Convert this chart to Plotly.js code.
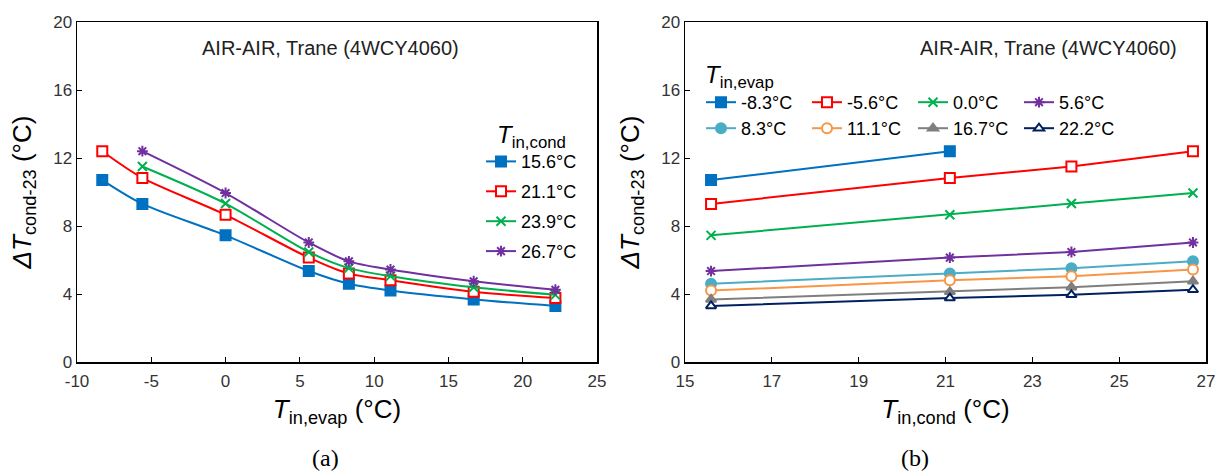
<!DOCTYPE html>
<html>
<head>
<meta charset="utf-8">
<script src="https://cdn.plot.ly/plotly-3.0.1.min.js"></script>
<style>html,body{margin:0;padding:0;background:#fff;}#chart{width:1217px;height:473px;}</style>
</head>
<body>
<div id="chart"></div>
<script>
// ---- data ----
const evapTemps = [-8.3, -5.6, 0.0, 5.6, 8.3, 11.1, 16.7, 22.2];
const condTemps = [15.6, 21.1, 23.9, 26.7];
const condLabels = ['15.6°C', '21.1°C', '23.9°C', '26.7°C'];
const evapLabels = ['-8.3°C', '-5.6°C', '0.0°C', '5.6°C', '8.3°C', '11.1°C', '16.7°C', '22.2°C'];
// ΔT_cond-23 vs T_in,evap for each T_in,cond
const dT_cond156 = [10.7, 9.3, 7.45, 5.35, 4.6, 4.2, 3.68, 3.3];
const dT_cond211 = [12.4, 10.83, 8.66, 6.14, 5.2, 4.81, 4.13, 3.76];
const dT_cond239 = [null, 11.5, 9.32, 6.47, 5.52, 5.05, 4.4, 3.95];
const dT_cond267 = [null, 12.4, 9.94, 7.03, 5.92, 5.44, 4.75, 4.25];
const xTicksA = [-10, -5, 0, 5, 10, 15, 20, 25];
const xTickTextA = ['-10', '-5', '0', '5', '10', '15', '20', '25'];
const plotNote = 'AIR-AIR, Trane (4WCY4060)';

// ---- styles ----
const FONT = 'Arial, "Liberation Sans", sans-serif';
const condStyles = [
  {color: '#0070C0', symbol: 'square', fill: '#0070C0', size: 10},
  {color: '#FF0000', symbol: 'square', fill: '#FFFFFF', size: 10},
  {color: '#00B050', symbol: 'x-thin-open', fill: '#00B050', size: 9},
  {color: '#7030A0', symbol: 'asterisk-open', fill: '#7030A0', size: 9}
];
const evapStyles = [
  {color: '#0070C0', symbol: 'square', fill: '#0070C0', size: 10},
  {color: '#FF0000', symbol: 'square', fill: '#FFFFFF', size: 10},
  {color: '#00B050', symbol: 'x-thin-open', fill: '#00B050', size: 9},
  {color: '#7030A0', symbol: 'asterisk-open', fill: '#7030A0', size: 9},
  {color: '#4BACC6', symbol: 'circle', fill: '#4BACC6', size: 10},
  {color: '#F79646', symbol: 'circle', fill: '#FFFFFF', size: 10},
  {color: '#7F7F7F', symbol: 'triangle-up', fill: '#7F7F7F', size: 9},
  {color: '#002060', symbol: 'triangle-up', fill: '#FFFFFF', size: 9}
];

const condSeries = [dT_cond156, dT_cond211, dT_cond239, dT_cond267];
const traces = [];

condSeries.forEach((ys, k) => {
  const s = condStyles[k];
  traces.push({
    type: 'scatter', mode: 'lines+markers',
    x: evapTemps, y: ys, name: condLabels[k],
    xaxis: 'x', yaxis: 'y', legend: 'legend', legendgroup: 'c' + k,
    line: {color: s.color, width: 2, shape: 'spline', smoothing: 0.8},
    marker: {symbol: s.symbol, size: s.size, color: s.fill, line: {color: s.color, width: 2}},
    connectgaps: false
  });
});

evapTemps.forEach((te, i) => {
  const s = evapStyles[i];
  const xs = [], ys = [];
  condTemps.forEach((tc, k) => {
    const v = condSeries[k][i];
    if (v !== null) { xs.push(tc); ys.push(v); }
  });
  traces.push({
    type: 'scatter', mode: 'lines+markers',
    x: xs, y: ys, name: evapLabels[i],
    xaxis: 'x2', yaxis: 'y2', legend: i < 4 ? 'legend2' : 'legend3',
    line: {color: s.color, width: 2},
    marker: {symbol: s.symbol, size: s.size, color: s.fill, line: {color: s.color, width: 2}}
  });
});

const W = 1217, H = 473;
const px = v => v / W, py = v => 1 - v / H;

const axisBase = {
  showgrid: false, zeroline: false, showline: true, linecolor: '#000', linewidth: 1.5,
  mirror: true, ticks: 'inside', ticklen: 5, tickwidth: 1, tickcolor: '#000',
  tickfont: {family: FONT, size: 17, color: '#333'}
};
const yTitle = {text: '<i>ΔT</i><sub>cond-23</sub> (°C)', font: {family: FONT, size: 26, color: '#000'}, standoff: 14};

const layout = {
  width: W, height: H,
  margin: {l: 0, r: 0, t: 0, b: 0},
  paper_bgcolor: '#fff', plot_bgcolor: '#fff',
  showlegend: true,
  xaxis: Object.assign({}, axisBase, {domain: [px(77), px(597)], range: [-10, 25], anchor: 'y',
    tickmode: 'array', tickvals: xTicksA, ticktext: xTickTextA, ticklabelstandoff: 3,
    title: {text: '<i>T</i><sub>in,evap</sub> (°C)', font: {family: FONT, size: 26, color: '#000'}, standoff: 10}}),
  yaxis: Object.assign({}, axisBase, {domain: [py(362), py(22)], range: [0, 20], dtick: 4, anchor: 'x', title: yTitle}),
  xaxis2: Object.assign({}, axisBase, {domain: [px(685), px(1206)], range: [15, 27], tick0: 15, dtick: 2, anchor: 'y2',
    ticklabelstandoff: 3,
    title: {text: '<i>T</i><sub>in,cond</sub> (°C)', font: {family: FONT, size: 26, color: '#000'}, standoff: 10}}),
  yaxis2: Object.assign({}, axisBase, {domain: [py(362), py(22)], range: [0, 20], dtick: 4, anchor: 'x2', title: yTitle}),
  legend: {
    x: px(481), y: py(112), xanchor: 'left', yanchor: 'top',
    bgcolor: 'rgba(0,0,0,0)', borderwidth: 0,
    font: {family: FONT, size: 18, color: '#000'},
    tracegroupgap: 3.5, traceorder: 'grouped',
    title: {text: '<i>T</i><sub>in,cond</sub>', side: 'top center', font: {family: FONT, size: 24, color: '#000'}}
  },
  legend2: {
    x: px(701), y: py(84), xanchor: 'left', yanchor: 'top', orientation: 'h',
    bgcolor: 'rgba(0,0,0,0)', borderwidth: 0, entrywidth: 61, entrywidthmode: 'pixels',
    font: {family: FONT, size: 18, color: '#000'}, traceorder: 'normal'
  },
  legend3: {
    x: px(701), y: py(110), xanchor: 'left', yanchor: 'top', orientation: 'h',
    bgcolor: 'rgba(0,0,0,0)', borderwidth: 0, entrywidth: 61, entrywidthmode: 'pixels',
    font: {family: FONT, size: 18, color: '#000'}, traceorder: 'normal'
  },
  annotations: [
    {text: plotNote, xref: 'paper', yref: 'paper', x: px(330), y: py(48), showarrow: false,
      font: {family: FONT, size: 20, color: '#222'}, xanchor: 'center', yanchor: 'middle'},
    {text: plotNote, xref: 'paper', yref: 'paper', x: px(1048), y: py(48), showarrow: false,
      font: {family: FONT, size: 20, color: '#222'}, xanchor: 'center', yanchor: 'middle'},
    {text: '<i>T</i><sub>in,evap</sub>', xref: 'paper', yref: 'paper', x: px(703), y: py(76), showarrow: false,
      font: {family: FONT, size: 24, color: '#000'}, xanchor: 'left', yanchor: 'middle'},
    {text: '(a)', xref: 'paper', yref: 'paper', x: px(325), y: py(458), showarrow: false,
      font: {family: '"Liberation Serif", "Times New Roman", serif', size: 24, color: '#000'}, xanchor: 'center', yanchor: 'middle'},
    {text: '(b)', xref: 'paper', yref: 'paper', x: px(915), y: py(458), showarrow: false,
      font: {family: '"Liberation Serif", "Times New Roman", serif', size: 24, color: '#000'}, xanchor: 'center', yanchor: 'middle'}
  ]
};

Plotly.newPlot('chart', traces, layout, {displayModeBar: false, staticPlot: true});
</script>
</body>
</html>
